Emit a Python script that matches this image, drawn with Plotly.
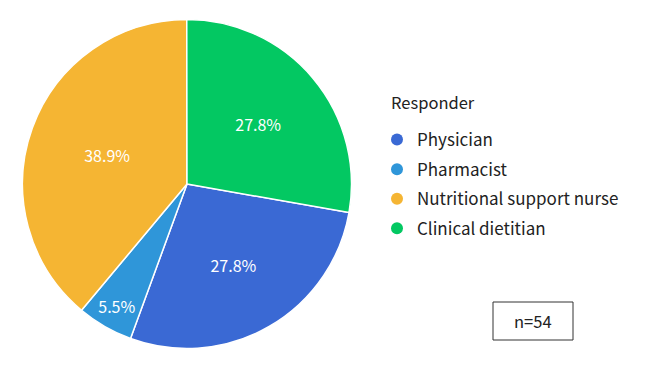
import plotly.graph_objects as go

categories = ["Physician", "Pharmacist", "Nutritional support nurse", "Clinical dietitian"]
percentages = [27.8, 5.5, 38.9, 27.8]
colors = ["#3A69D4", "#2F96D9", "#F5B533", "#03C862"]
legend_title = "Responder"
sample_note = "n=54"

W, H = 661, 378
FONT = "Noto Sans CJK KR"

fig = go.Figure()
fig.add_trace(go.Pie(
    labels=categories,
    values=percentages,
    sort=False,
    direction="clockwise",
    rotation=100,
    marker=dict(colors=colors, line=dict(color="white", width=1.5)),
    texttemplate="%{value:.1f}%",
    textposition="inside",
    insidetextorientation="horizontal",
    textfont=dict(color="white", size=16, family=FONT),
    showlegend=False,
    hoverinfo="label+value",
    domain=dict(x=[22.5 / W, 351.5 / W], y=[1 - 348.5 / H, 1 - 19.5 / H]),
))

for i, (c, col) in enumerate(zip(categories, colors)):
    fig.add_trace(go.Scatter(
        x=[None], y=[None], mode="markers", name=c,
        marker=dict(color=col, size=13, symbol="circle"),
        legendgroup=f"g{i}", showlegend=True,
    ))

fig.add_shape(type="rect", xref="paper", yref="paper",
              x0=493 / W, x1=573 / W, y0=1 - 340 / H, y1=1 - 302 / H,
              line=dict(color="#333333", width=1), fillcolor="rgba(0,0,0,0)")
fig.add_annotation(text=sample_note, xref="paper", yref="paper",
                   x=533 / W, y=1 - 321 / H, showarrow=False,
                   font=dict(size=16.5, color="#222222", family=FONT),
                   xanchor="center", yanchor="middle")
fig.add_annotation(text=legend_title, xref="paper", yref="paper",
                   x=389 / W, y=1 - 102 / H, showarrow=False,
                   font=dict(size=16.5, color="#222222", family=FONT),
                   xanchor="left", yanchor="middle")

fig.update_layout(
    width=W, height=H,
    margin=dict(l=0, r=0, t=0, b=0),
    paper_bgcolor="white", plot_bgcolor="white",
    xaxis=dict(visible=False), yaxis=dict(visible=False),
    font=dict(family=FONT, color="#222222"),
    legend=dict(
        x=377 / W, y=1 - 122 / H, xanchor="left", yanchor="top",
        font=dict(size=17, color="#222222", family=FONT),
        tracegroupgap=4.5, itemsizing="constant", bgcolor="rgba(0,0,0,0)",
    ),
)

fig.write_html("out.html", config={"displayModeBar": False},
               post_script="document.body.style.margin='0';")
